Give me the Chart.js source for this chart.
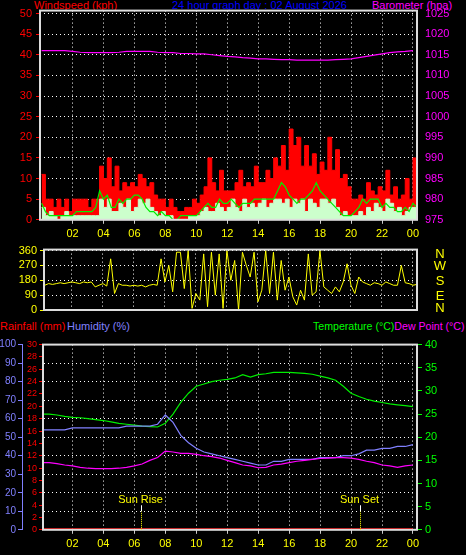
<!DOCTYPE html>
<html><head><meta charset="utf-8">
<script src="https://cdn.jsdelivr.net/npm/chart.js@4.4.1/dist/chart.umd.min.js"></script>
<style>
html,body{margin:0;padding:0;background:#000;width:466px;height:555px;overflow:hidden;font-family:"Liberation Sans",sans-serif}
canvas{position:absolute;left:0}
.t{position:absolute;font-size:11px;white-space:nowrap;font-family:"Liberation Sans",sans-serif}
</style></head><body>
<div class="t" style="left:34px;top:-1px;color:#ff0000">Windspeed (kph)</div>
<div class="t" style="left:172px;top:-1px;color:#0000ff">24 hour graph day : 02 August 2026</div>
<div class="t" style="left:372px;top:-1px;color:#ff00ff">Barometer (hpa)</div>
<div class="t" style="left:0px;top:320px;color:#ff0000">Rainfall (mm)</div>
<div class="t" style="left:67px;top:320px;color:#8080ff">Humidity (%)</div>
<div class="t" style="left:313px;top:320px;color:#00ff00;font-size:10.6px">Temperature (°C)<span style="color:#ff00ff">Dew Point (°C)</span></div>
<canvas id="c1" width="466" height="245" style="top:0"></canvas>
<canvas id="c2" width="466" height="80" style="top:240px"></canvas>
<canvas id="c3" width="466" height="220" style="top:335px"></canvas>
<script>
// 15-minute wind data (hour 0..24)
const gust = [11,5,5,3,5,3,5,2,5, 5,5,5,3,5,5,13,10, 15,8,13,7,9,8,9,8, 11,10,8,9,6,5,5,3, 5,3,2,2,3,3,5,4, 6,8,15,9,7,12,7,7, 7,9,12,8,9,8,13,9, 9,12,10,15,13,18,12,22, 18,20,13,18,13,16,11,14, 12,20,12,17,10,11,8,5, 5,6,5,9,7,6,8,7, 12,6,8,5,6,10,5,15, 7];
const avgFill = [3,1,2,1,0,1,2,1,1, 1,1,1,1,1,1,5,3, 5,2,2,4,3,5,2,3, 5,4,5,3,2,1,2,1, 1,0,0,0,0,1,1,1, 2,3,2,2,4,3,2,3, 5,3,2,5,3,4,3,4, 5,3,4,5,5,4,5,3, 5,4,5,2,5,4,3,5, 5,4,5,3,1,2,1,1, 1,2,1,3,2,4,3,2, 5,4,2,3,1,2,3,3, 2];
const avgLine = [4,2,1,1,1,1,1,1,1, 2,2,2,2,2,3,7,5, 6,3,3,5,4,5,5,6, 6,5,3,2,2,1,2,1, 1,0,0,1,1,1,1,1, 2,3,4,3,3,5,4,4, 5,4,3,4,4,4,5,5, 5,5,5,5,7,9,8,6, 5,4,5,5,6,7,9,7, 6,5,4,3,2,1,1,1, 2,3,5,4,5,5,5,3, 4,3,3,2,2,3,2,4, 3];
const direction = [160,150,160,155,160,165,160,165,170, 165,160,170,165,170,140,150,160, 145,310,100,160,150,150,145,150, 145,150,140,150,155,150,310,170, 270,110,350,350,130,360,10,100, 60,340,20,350,90,340,10,360, 180,300,0,350,270,200,350,50, 120,360,100,350,60,300,120,200, 80,30,120,60,340,90,110,360, 140,120,100,140,110,170,280,150, 100,200,170,160,150,165,160,150, 170,160,150,150,270,165,160,150, 155];
// 30-minute data (hour 0..24)
const barometer = [1016,1016,1016,1016,1015.8,1015.6,1015.5,1015.5,1015.5,1015.5, 1015.6,1015.8,1015.8,1015.8,1015.8,1015.6,1015.5,1015.5,1015.3,1015.3, 1015.2,1015.2,1015,1014.8,1014.6,1014.5,1014.3,1014.2,1014,1014, 1013.9,1013.8,1013.8,1013.7,1013.7,1013.7,1013.7,1013.7,1013.8,1013.9, 1014,1014.3,1014.6,1014.9,1015.2,1015.5,1015.7,1015.8,1016];
const temperature = [25,25,24.8,24.5,24.3,24.2,24,23.8,23.6,23.3, 23,22.8,22.6,22.4,22.3,22.2,23,25,27.5,29.5, 31,31.5,32,32.3,32.5,32.8,33.5,33,33.5,33.7, 34,34,34,33.9,33.8,33.6,33.2,32.8,32.3,31, 29.5,28.8,28.2,27.8,27.5,27.2,27,26.8,26.6];
const humidity = [54,54,54,54,55,55,55,55,55,55, 55,56,56,56,56,57,62,58,51,47, 44,42,41,40,39,38,37,36,35,35, 37,37,38,38,38,38,39,39,39,40, 40,41,43,43,44,44,45,45,46];
const dewPoint = [14.5,14.5,14.3,14,13.8,13.5,13.3,13.2,13.2,13.2, 13.3,13.5,13.8,14.2,15,15.6,17,16.8,16.5,16.5, 16.3,16,15.8,15.5,15,14.5,14,13.8,13.4,13.5, 14,14.2,14.5,14.8,15,15.2,15.4,15.5,15.6,15.6, 15.5,15.2,14.8,14.5,14,13.8,13.5,13.8,14];
const rainfall = [0,0];
const hourTicks = [2,4,6,8,10,12,14,16,18,20,22,24];
const sunEvents = [6.45, 20.6];
const sunLabels = ["Sun Rise","Sun Set"];

const F = {family:"Liberation Sans", size:11};
const pts = (arr, step) => arr.map((v,i)=>({x:i*step, y:v}));
const hourLabel = v => v===24 ? "00" : String(v).padStart(2,"0");
function fixW(w){return s=>{s.width=w;};}
function setTicks(list){return s=>{s.ticks=list.map(v=>({value:v}));};}
const range=(a,b,s)=>{const r=[];for(let v=a;v<=b+1e-9;v+=s)r.push(Math.round(v*100)/100);return r;};
const plain = v => String(v);
const frame = {id:'frame', afterDatasetsDraw(c){const a=c.chartArea,x=c.ctx;x.save();x.strokeStyle="#dddddd";x.lineWidth=2;x.strokeRect(a.left,a.top,a.right-a.left,a.bottom-a.top);x.restore();}};
const xAxis = (min, show) => ({type:'linear', min:min, max:24.26, afterBuildTicks:setTicks(hourTicks),
  grid:{color:"#ffffff", drawTicks:show, tickLength:4, tickColor:"#cccccc"}, border:{dash:[1,3], display:false},
  ticks:{display:show, color:"#ffff00", font:F, callback:hourLabel, maxRotation:0, padding:4, autoSkip:false}});
const common = {responsive:false, animation:false, events:[], plugins:{legend:{display:false}, tooltip:{enabled:false}},
  elements:{point:{radius:0}, line:{borderWidth:1, tension:0}}};

new Chart(document.getElementById('c1'), {
  type:'line',
  data:{datasets:[
    {data:pts(avgLine,0.25), borderColor:"#00ee00", borderWidth:1.2, yAxisID:'y'},
    {data:pts(avgFill,0.25), borderColor:"#ccffcc", backgroundColor:"#ccffcc", fill:'origin', stepped:true, yAxisID:'y'},
    {data:pts(gust,0.25), borderColor:"#ff0000", backgroundColor:"#ff0000", fill:'origin', stepped:true, yAxisID:'y'},
    {data:pts(barometer,0.5), borderColor:"#ff00ff", borderWidth:1.2, yAxisID:'yb'}
  ]},
  options:{...common, layout:{padding:{top:10,bottom:0}},
    scales:{
      x: xAxis(-0.1, true),
      y:{position:'left', min:0, max:50.7, afterBuildTicks:setTicks(range(0,50,5)), afterFit:fixW(40),
        grid:{color:"#ffffff", tickColor:"#ff0000", tickLength:4}, border:{dash:[1,3], display:false},
        ticks:{color:"#ff0000", font:F, padding:4, autoSkip:false}},
      yb:{position:'right', min:975, max:1025.7, afterBuildTicks:setTicks(range(975,1025,5)), afterFit:fixW(49),
        grid:{display:false, drawOnChartArea:false, tickColor:"#ff00ff", tickLength:5}, border:{color:"#ff00ff"},
        ticks:{color:"#ff00ff", font:F, padding:3, callback:plain, autoSkip:false}}
    }},
  plugins:[frame]
});

const nwsen = {id:'nwsen', afterDraw(c){const s=c.scales.y,x=c.ctx;x.save();x.fillStyle="#ffff00";x.font="13px 'Liberation Sans'";x.textAlign="center";x.textBaseline="middle";
  [[360,"N"],[270,"W"],[180,"S"],[90,"E"],[0,"N"]].forEach(([v,t])=>x.fillText(t,440,s.getPixelForValue(v)+ (v===360?4:v===0?-2:1)));x.restore();}};
new Chart(document.getElementById('c2'), {
  type:'line',
  data:{datasets:[{data:pts(direction,0.25), borderColor:"#ffff00", borderWidth:1}]},
  options:{...common, layout:{padding:{top:3,bottom:10,right:0}},
    scales:{
      x: xAxis(0.2, false),
      y:{position:'left', min:0, max:366, afterBuildTicks:setTicks([0,90,180,270,360]), afterFit:fixW(44),
        grid:{color:"#ffffff", tickColor:"#ffff00", tickLength:4}, border:{dash:[1,3], display:false},
        ticks:{color:"#ffff00", font:F, padding:3, autoSkip:false}},
      yr:{position:'right', min:0, max:366, afterFit:fixW(49), grid:{display:false}, ticks:{display:false}, border:{display:false}}
    }},
  plugins:[frame, nwsen]
});

const sun = {id:'sun', afterDatasetsDraw(c){const xs=c.scales.x, ys=c.scales.yT, x=c.ctx; x.save();
  sunEvents.forEach((t,i)=>{const px=Math.round(xs.getPixelForValue(t))+0.5;
    x.strokeStyle="#ffff00"; x.setLineDash([1,1]); x.beginPath(); x.moveTo(px,ys.getPixelForValue(0)); x.lineTo(px,ys.getPixelForValue(4)); x.stroke();
    x.setLineDash([]); x.strokeStyle="#ffffff"; x.beginPath(); x.moveTo(px,ys.getPixelForValue(4)); x.lineTo(px,ys.getPixelForValue(5.3)); x.stroke();
    x.fillStyle="#ffff00"; x.font="11px 'Liberation Sans'"; x.textAlign="center"; x.textBaseline="middle"; x.fillText(sunLabels[i], px-1, ys.getPixelForValue(6.5));});
  x.restore();}};
new Chart(document.getElementById('c3'), {
  type:'line',
  data:{datasets:[
    {data:pts(dewPoint,0.5), borderColor:"#ff00ff", borderWidth:1.2, yAxisID:'yT'},
    {data:pts(humidity,0.5), borderColor:"#8080ff", borderWidth:1.2, yAxisID:'yH'},
    {data:pts(temperature,0.5), borderColor:"#00ee00", borderWidth:1.2, yAxisID:'yT'},
    {data:pts(rainfall,24), borderColor:"#ff0000", borderWidth:3, yAxisID:'yR'}
  ]},
  options:{...common, layout:{padding:{top:7,bottom:0}},
    scales:{
      x: xAxis(0.1, true),
      yH:{position:'left', weight:2, min:0, max:100, afterBuildTicks:setTicks(range(0,100,10)), afterFit:fixW(22),
        grid:{color:"#ffffff", tickColor:"#8080ff", tickLength:4}, border:{dash:[1,3], color:"#8080ff"},
        ticks:{color:"#8080ff", font:{family:"Liberation Sans", size:10}, padding:2, autoSkip:false}},
      yR:{position:'left', weight:1, min:0, max:30, afterBuildTicks:setTicks(range(0,30,2)), afterFit:fixW(21),
        grid:{drawOnChartArea:false, tickColor:"#ff0000", tickLength:4}, border:{color:"#ff0000"},
        ticks:{color:"#ff0000", font:{family:"Liberation Sans", size:9}, padding:2, autoSkip:false}},
      yT:{position:'right', min:0, max:40, afterBuildTicks:setTicks(range(0,40,5)), afterFit:fixW(49),
        grid:{drawOnChartArea:false, tickColor:"#00ff00", tickLength:5}, border:{color:"#00ff00"},
        ticks:{color:"#00ff00", font:F, padding:3, autoSkip:false}}
    }},
  plugins:[frame, sun]
});
</script></body></html>
